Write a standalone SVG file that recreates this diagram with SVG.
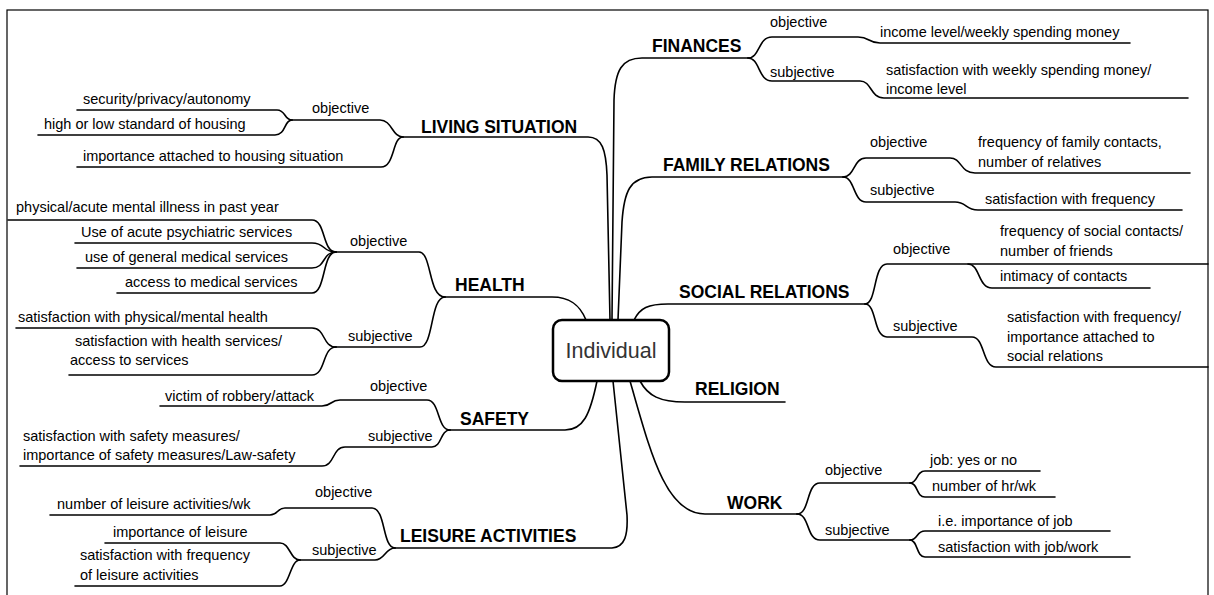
<svg xmlns="http://www.w3.org/2000/svg" width="1214" height="595" viewBox="0 0 1214 595">
<style>
.t{font-family:"Liberation Sans",Arial,sans-serif;font-size:14.5px;fill:#000}
.h{font-family:"Liberation Sans",Arial,sans-serif;font-size:17.5px;font-weight:bold;fill:#000}
.c{fill:none;stroke:#000;stroke-width:1.6;stroke-linecap:round}
.frame{fill:none;stroke:#000;stroke-width:1.2}
</style>
<rect width="1214" height="595" fill="#fff"/>
<rect class="frame" x="7" y="10" width="1201" height="600"/>
<g id="connectors">
<!-- center to main branches -->
<path class="c" d="M 612 320 L 614 100 C 615 70, 622 58, 642 58 L 748 58"/>
<path class="c" d="M 618 320 L 622 222 C 624 192, 630 177, 652 177 L 843 177"/>
<path class="c" d="M 634 320 C 640 308, 648 304, 668 304 L 865 304"/>
<path class="c" d="M 640 381 C 648 396, 660 402, 685 402 L 785 402"/>
<path class="c" d="M 630 381 C 650 450, 665 514, 705 514 L 797 514"/>
<path class="c" d="M 403 137 L 588 137 C 602 137, 606 150, 607 175 L 610 320"/>
<path class="c" d="M 445 297 L 552 297 C 570 297, 580 305, 586 320"/>
<path class="c" d="M 450 430 L 565 430 C 583 430, 590 415, 597 381"/>
<path class="c" d="M 395 548 L 612 548 C 625 547, 628 535, 627 515 L 613 381"/>
<!-- finances -->
<path class="c" d="M 748 58 C 760 58, 758 37, 772 37 L 858 37 C 870 37, 868 43, 880 43 L 1130 43"/>
<path class="c" d="M 748 58 C 760 58, 758 81, 772 81 L 860 81 C 872 81, 870 98, 884 98 L 1188 98"/>
<!-- family -->
<path class="c" d="M 843 177 C 855 177, 853 158, 866 158 L 950 158 C 962 158, 960 173, 975 173 L 1190 173"/>
<path class="c" d="M 843 177 C 855 177, 853 202, 866 202 L 955 202 C 967 202, 965 210, 978 210 L 1182 210"/>
<!-- social -->
<path class="c" d="M 865 304 C 877 304, 873 264, 887 264 L 1208 264"/>
<path class="c" d="M 968 264 C 980 264, 978 288, 992 288 L 1150 288"/>
<path class="c" d="M 865 304 C 877 304, 873 337, 887 337 L 972 337 C 985 337, 982 367, 996 367 L 1208 367"/>
<!-- work -->
<path class="c" d="M 797 514 C 810 514, 806 483, 820 483 L 910 483"/>
<path class="c" d="M 910 483 C 918 483, 916 471, 925 471 L 1040 471"/>
<path class="c" d="M 910 483 C 918 483, 916 497, 925 497 L 1055 497"/>
<path class="c" d="M 797 514 C 810 514, 806 540, 820 540 L 910 540"/>
<path class="c" d="M 910 540 C 918 540, 916 531, 925 531 L 1110 531"/>
<path class="c" d="M 910 540 C 918 540, 916 557, 925 557 L 1130 557"/>
<!-- living situation -->
<path class="c" d="M 403 137 C 392 137, 392 120, 380 120 L 292 120"/>
<path class="c" d="M 292 120 C 284 120, 286 110, 277 110 L 77 110"/>
<path class="c" d="M 292 120 C 284 120, 286 135, 275 135 L 38 135"/>
<path class="c" d="M 403 137 C 392 137, 395 167, 381 167 L 77 167"/>
<!-- health -->
<path class="c" d="M 445 297 C 428 297, 432 252, 419 252 L 336 252"/>
<path class="c" d="M 336 252 C 322 252, 326 220, 312 220 L 8 220"/>
<path class="c" d="M 336 252 C 322 252, 326 243, 312 243 L 75 243"/>
<path class="c" d="M 336 252 C 322 252, 326 268, 312 268 L 77 268"/>
<path class="c" d="M 336 252 C 322 252, 326 293, 312 293 L 117 293"/>
<path class="c" d="M 445 297 C 430 297, 434 347, 420 347 L 336 347"/>
<path class="c" d="M 336 347 C 322 347, 326 328, 312 328 L 16 328"/>
<path class="c" d="M 336 347 C 322 347, 326 375, 312 375 L 69 375"/>
<!-- safety -->
<path class="c" d="M 450 430 C 437 430, 440 400, 427 400 L 340 400 C 330 400, 332 406, 322 406 L 160 406"/>
<path class="c" d="M 450 430 C 440 430, 442 447, 432 447 L 345 447 C 332 447, 335 466, 322 466 L 20 466"/>
<!-- leisure -->
<path class="c" d="M 395 548 C 382 548, 386 508, 372 508 L 285 508 C 277 508, 278 515, 270 515 L 50 515"/>
<path class="c" d="M 395 548 C 385 548, 385 560, 375 560 L 300 560"/>
<path class="c" d="M 300 560 C 290 560, 290 543, 280 543 L 105 543"/>
<path class="c" d="M 300 560 C 290 560, 290 586, 280 586 L 75 586"/>
</g>
<g id="individual">
<rect x="553" y="320" width="116" height="61" rx="9" fill="#fff" stroke="#000" stroke-width="2.5"/>
<text x="611" y="358" text-anchor="middle" style="font-family:'Liberation Sans',Arial,sans-serif;font-size:21.5px;fill:#333">Individual</text>
</g>
<g id="finances">
<text class="h" x="652" y="52">FINANCES</text>
<text class="t" x="770" y="27">objective</text>
<text class="t" x="880" y="37">income level/weekly spending money</text>
<text class="t" x="770" y="77">subjective</text>
<text class="t" x="886" y="75">satisfaction with weekly spending money/</text>
<text class="t" x="886" y="94">income level</text>
</g>
<g id="family-relations">
<text class="h" x="663" y="171">FAMILY RELATIONS</text>
<text class="t" x="870" y="147">objective</text>
<text class="t" x="978" y="147">frequency of family contacts,</text>
<text class="t" x="978" y="167">number of relatives</text>
<text class="t" x="870" y="195">subjective</text>
<text class="t" x="985" y="204">satisfaction with frequency</text>
</g>
<g id="social-relations">
<text class="h" x="679" y="298">SOCIAL RELATIONS</text>
<text class="t" x="893" y="254">objective</text>
<text class="t" x="1000" y="236">frequency of social contacts/</text>
<text class="t" x="1000" y="256">number of friends</text>
<text class="t" x="1000" y="281">intimacy of contacts</text>
<text class="t" x="893" y="331">subjective</text>
<text class="t" x="1007" y="322">satisfaction with frequency/</text>
<text class="t" x="1007" y="342">importance attached to</text>
<text class="t" x="1007" y="361">social relations</text>
</g>
<g id="religion">
<text class="h" x="695" y="395">RELIGION</text>
</g>
<g id="work">
<text class="h" x="727" y="509">WORK</text>
<text class="t" x="825" y="475">objective</text>
<text class="t" x="930" y="465">job: yes or no</text>
<text class="t" x="932" y="491">number of hr/wk</text>
<text class="t" x="825" y="535">subjective</text>
<text class="t" x="938" y="526">i.e. importance of job</text>
<text class="t" x="938" y="552">satisfaction with job/work</text>
</g>
<g id="living-situation">
<text class="h" x="421" y="133">LIVING SITUATION</text>
<text class="t" x="312" y="113">objective</text>
<text class="t" x="83" y="104">security/privacy/autonomy</text>
<text class="t" x="44" y="129">high or low standard of housing</text>
<text class="t" x="83" y="161">importance attached to housing situation</text>
</g>
<g id="health">
<text class="h" x="455" y="291">HEALTH</text>
<text class="t" x="350" y="246">objective</text>
<text class="t" x="16" y="212">physical/acute mental illness in past year</text>
<text class="t" x="81" y="237">Use of acute psychiatric services</text>
<text class="t" x="85" y="262">use of general medical services</text>
<text class="t" x="125" y="287">access to medical services</text>
<text class="t" x="348" y="341">subjective</text>
<text class="t" x="18" y="322">satisfaction with physical/mental health</text>
<text class="t" x="75" y="346">satisfaction with health services/</text>
<text class="t" x="70" y="365">access to services</text>
</g>
<g id="safety">
<text class="h" x="460" y="425">SAFETY</text>
<text class="t" x="370" y="391">objective</text>
<text class="t" x="165" y="401">victim of robbery/attack</text>
<text class="t" x="368" y="441">subjective</text>
<text class="t" x="23" y="441">satisfaction with safety measures/</text>
<text class="t" x="23" y="460">importance of safety measures/Law-safety</text>
</g>
<g id="leisure-activities">
<text class="h" x="400" y="542">LEISURE ACTIVITIES</text>
<text class="t" x="315" y="497">objective</text>
<text class="t" x="57" y="509">number of leisure activities/wk</text>
<text class="t" x="312" y="555">subjective</text>
<text class="t" x="113" y="537">importance of leisure</text>
<text class="t" x="80" y="560">satisfaction with frequency</text>
<text class="t" x="80" y="580">of leisure activities</text>
</g>
</svg>
